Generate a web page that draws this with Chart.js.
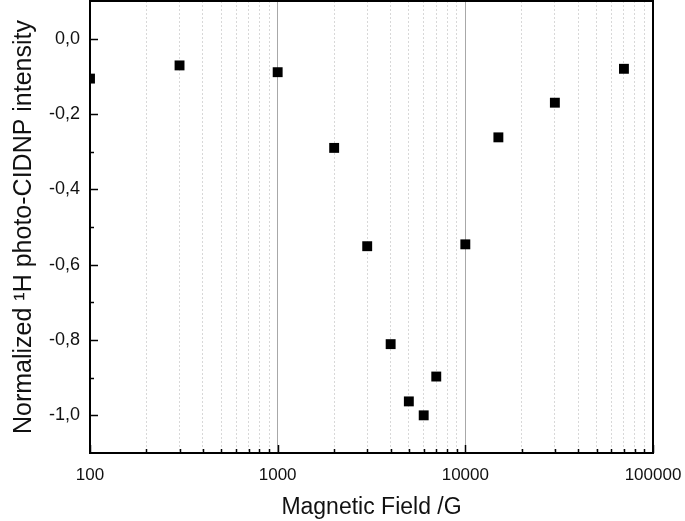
<!DOCTYPE html>
<html>
<head>
<meta charset="utf-8">
<script src="https://cdn.jsdelivr.net/npm/chart.js@4/dist/chart.umd.min.js"></script>
<style>
  html, body { margin: 0; padding: 0; background: #fff; }
  #wrap { width: 685px; height: 521px; }
</style>
</head>
<body>
<div id="wrap"><canvas id="fieldChart" width="685" height="521"></canvas></div>
<script>
// Field values (G) and normalized intensities
const fieldValues = [100, 300, 1000, 2000, 3000, 4000, 5000, 6000, 7000, 10000, 15000, 30000, 70000];
const intensityValues = [-0.106, -0.071, -0.089, -0.29, -0.551, -0.811, -0.963, -1.0, -0.897, -0.546, -0.262, -0.170, -0.080];

// Axis ticks
const xMajorTicks = [100, 1000, 10000, 100000];
const xMinorSteps = [2, 3, 4, 5, 6, 7, 8, 9];
const yMajorTicks = [-1.0, -0.8, -0.6, -0.4, -0.2, 0.0];
const yMinorTicks = [-0.9, -0.7, -0.5, -0.3, -0.1];

const FONT = "'Liberation Sans', Arial, sans-serif";

// all x tick positions: decades plus 2..9 in between
function buildXTicks() {
    const ticks = [];
    xMajorTicks.forEach((v, i) => {
        ticks.push({ value: v, major: true });
        if (i < xMajorTicks.length - 1) {
            xMinorSteps.forEach(m => ticks.push({ value: v * m, major: false }));
        }
    });
    return ticks;
}

// no automatic label padding, the layout padding handles it
function clearPadding(scale) {
    scale.paddingLeft = 0;
    scale.paddingRight = 0;
    scale.paddingTop = 0;
    scale.paddingBottom = 0;
}

/**
 * Frame round the plot area and inward-pointing tick marks
 */
const framePlugin = {
    id: 'frame',
    afterDraw(chart) {
        const { ctx, chartArea: a, scales } = chart;
        ctx.save();
        ctx.strokeStyle = '#000';
        ctx.lineWidth = 1.5;

        scales.x.ticks.forEach(t => {
            const px = Math.round(scales.x.getPixelForValue(t.value)) + 0.5;
            const len = t.major ? 8 : 4;
            ctx.beginPath();
            ctx.moveTo(px, a.bottom);
            ctx.lineTo(px, a.bottom - len);
            ctx.stroke();
        });

        yMajorTicks.concat(yMinorTicks).forEach(v => {
            const py = Math.round(scales.y.getPixelForValue(v)) + 0.5;
            const len = yMajorTicks.includes(v) ? 8 : 4;
            ctx.beginPath();
            ctx.moveTo(a.left, py);
            ctx.lineTo(a.left + len, py);
            ctx.stroke();
        });

        ctx.lineWidth = 2;
        ctx.strokeRect(a.left, a.top, a.right - a.left, a.bottom - a.top);
        ctx.restore();
    }
};

function initFieldChart() {
    const canvas = document.getElementById('fieldChart');

    new Chart(canvas, {
        type: 'scatter',
        data: {
            datasets: [{
                data: fieldValues.map((x, i) => ({ x: x, y: intensityValues[i] })),
                pointStyle: 'rect',
                radius: 7,
                hoverRadius: 7,
                backgroundColor: '#000',
                borderColor: '#000',
                borderWidth: 0,
                clip: 0
            }]
        },
        options: {
            responsive: false,
            animation: false,
            devicePixelRatio: 1,
            layout: {
                autoPadding: false,
                padding: { top: 1, right: 32, bottom: 0, left: 0 }
            },
            plugins: {
                legend: { display: false },
                tooltip: { enabled: false }
            },
            scales: {
                x: {
                    type: 'logarithmic',
                    min: 100,
                    max: 100000,
                    afterBuildTicks: scale => { scale.ticks = buildXTicks(); },
                    afterFit: scale => { scale.height = 68; clearPadding(scale); },
                    ticks: {
                        autoSkip: false,
                        maxRotation: 0,
                        padding: 12,
                        color: '#111',
                        font: { family: FONT, size: 17 },
                        callback: function(value) {
                            return xMajorTicks.includes(value) ? String(value) : '';
                        }
                    },
                    grid: {
                        drawTicks: false,
                        lineWidth: 1,
                        color: ctx => {
                            const v = ctx.tick && ctx.tick.value;
                            if (v === 1000 || v === 10000) return '#a8a8a8';
                            return '#d8d8d8';
                        }
                    },
                    border: {
                        display: false,
                        dash: ctx => (ctx.tick && !ctx.tick.major) ? [2, 2] : []
                    },
                    title: {
                        display: true,
                        text: 'Magnetic Field /G',
                        color: '#111',
                        font: { family: FONT, size: 23 },
                        padding: { top: 0, bottom: 0 }
                    }
                },
                y: {
                    min: -1.1,
                    max: 0.1,
                    afterBuildTicks: scale => {
                        scale.ticks = yMajorTicks.map(v => ({ value: v }));
                    },
                    afterFit: scale => { scale.width = 90; clearPadding(scale); },
                    ticks: {
                        padding: 10,
                        color: '#111',
                        font: { family: FONT, size: 18 },
                        callback: value => value.toFixed(1).replace('.', ',')
                    },
                    grid: { display: false, drawTicks: false },
                    border: { display: false },
                    title: {
                        display: true,
                        text: 'Normalized \u00B9H photo-CIDNP intensity',
                        color: '#111',
                        font: { family: FONT, size: 25 },
                        padding: { top: 9, bottom: 0 }
                    }
                }
            }
        },
        plugins: [framePlugin]
    });
}

initFieldChart();
</script>
</body>
</html>
